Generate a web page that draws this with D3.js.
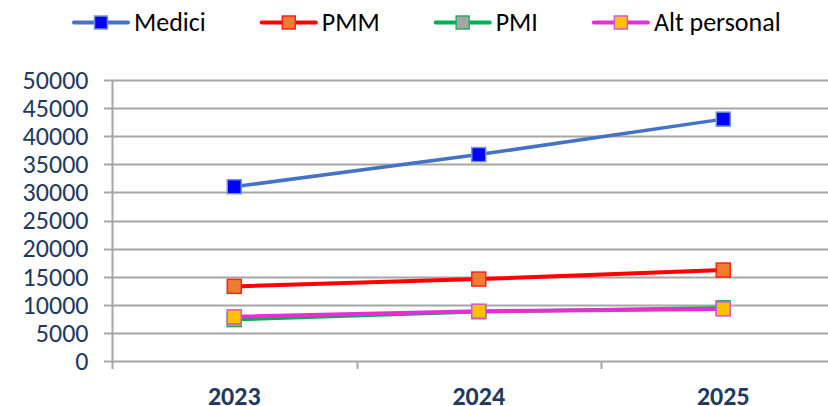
<!DOCTYPE html>
<html>
<head>
<meta charset="utf-8">
<script src="https://cdn.jsdelivr.net/npm/d3@7"></script>
<style>
  body { margin: 0; background: #fff; }
  svg { display: block; }
</style>
</head>
<body>
<div id="chart"></div>
<script>
const years = ["2023", "2024", "2025"];
const seriesNames = ["Medici", "PMM", "PMI", "Alt personal"];
const medici = [31000, 36700, 43000];
const pmm = [13300, 14600, 16200];
const pmi = [7400, 8800, 9500];
const altPersonal = [7900, 8900, 9300];
const yTicks = [0, 5000, 10000, 15000, 20000, 25000, 30000, 35000, 40000, 45000, 50000];

const width = 828, height = 406;
const styles = [
    { line: "#4472C4", fill: "#0000FF", stroke: "#6F95D8", lw: 3.5 },
    { line: "#FF0000", fill: "#ED7D31", stroke: "#FF2020", lw: 4 },
    { line: "#00B050", fill: "#A5A5A5", stroke: "#22B060", lw: 3.5 },
    { line: "#E62ED4", fill: "#FFC000", stroke: "#D655D0", lw: 4 }
];
const values = [medici, pmm, pmi, altPersonal];
const font = "Carlito, Lato, 'Liberation Sans', sans-serif";
const labelColor = "#1F3A60";

const svg = d3.select("#chart").append("svg")
    .attr("width", width)
    .attr("height", height);

// scales
const x = d3.scaleBand().domain(years).range([112, 845.5]).padding(0);
const y = d3.scaleLinear().domain([0, 50000]).range([361.3, 79.7]);

// gridlines
svg.append("g").selectAll("line").data(yTicks).join("line")
    .attr("x1", 104).attr("x2", width)
    .attr("y1", d => Math.round(y(d)) + 0.5).attr("y2", d => Math.round(y(d)) + 0.5)
    .attr("stroke", "#A6A6A6").attr("stroke-width", 2);

// y axis
const yAxis = d3.axisLeft(y).tickValues(yTicks).tickSize(8).tickPadding(16).tickFormat(d => d);
const gy = svg.append("g").attr("transform", "translate(112.5,0)").call(yAxis);
gy.select(".domain").remove();
gy.selectAll(".tick line").remove();
gy.selectAll("text")
    .style("font-family", font).style("font-size", "26px").attr("fill", labelColor);

svg.append("line")
    .attr("x1", 112.5).attr("x2", 112.5).attr("y1", y(50000)).attr("y2", 369)
    .attr("stroke", "#A6A6A6").attr("stroke-width", 2);

// x axis: ticks at category boundaries
const bounds = years.map(d => x(d)).concat([x(years[years.length - 1]) + x.bandwidth()]);
svg.append("g").selectAll("line").data(bounds.slice(1)).join("line")
    .attr("x1", d => Math.round(d) + 0.5).attr("x2", d => Math.round(d) + 0.5)
    .attr("y1", y(0)).attr("y2", 369)
    .attr("stroke", "#A6A6A6").attr("stroke-width", 2);

svg.append("g").selectAll("text").data(years).join("text")
    .attr("x", d => x(d) + x.bandwidth() / 2)
    .attr("y", 405)
    .attr("text-anchor", "middle")
    .style("font-family", font).style("font-size", "26px").style("font-weight", "bold")
    .attr("fill", labelColor)
    .text(d => d);

// series
const line = d3.line()
    .x((d, i) => x(years[i]) + x.bandwidth() / 2)
    .y(d => y(d));

const ms = 14;
values.forEach((vals, k) => {
    const st = styles[k];
    const g = svg.append("g");
    g.append("path")
        .attr("d", line(vals))
        .attr("fill", "none")
        .attr("stroke", st.line)
        .attr("stroke-width", st.lw)
        .attr("stroke-linejoin", "round");
    g.selectAll("rect").data(vals).join("rect")
        .attr("x", (d, i) => x(years[i]) + x.bandwidth() / 2 - ms / 2)
        .attr("y", d => y(d) - ms / 2)
        .attr("width", ms).attr("height", ms)
        .attr("fill", st.fill)
        .attr("stroke", st.stroke)
        .attr("stroke-width", 1.5);
});

// legend
const legend = svg.append("g");
const symW = 54;
let lx = 74;
seriesNames.forEach((name, k) => {
    const st = styles[k];
    const item = legend.append("g").attr("transform", `translate(${lx},22.5)`);
    item.append("line")
        .attr("x1", 0).attr("x2", symW).attr("y1", 0).attr("y2", 0)
        .attr("stroke", st.line).attr("stroke-width", 4)
        .attr("stroke-linecap", "round");
    item.append("rect")
        .attr("x", symW / 2 - 6.5).attr("y", -6.5).attr("width", 13).attr("height", 13)
        .attr("fill", st.fill).attr("stroke", st.stroke).attr("stroke-width", 1.5);
    const t = item.append("text")
        .attr("x", symW + 6).attr("y", 8.5)
        .style("font-family", font).style("font-size", "26px")
        .attr("fill", "#000")
        .text(name);
    lx += symW + 6 + t.node().getComputedTextLength() + 56;
});
</script>
</body>
</html>
